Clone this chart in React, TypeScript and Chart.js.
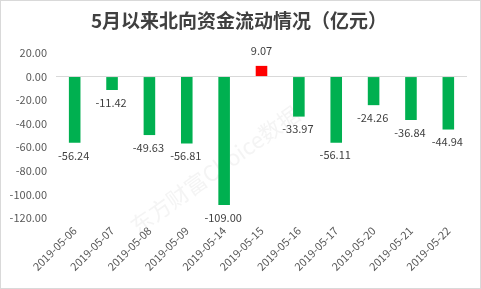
import React, { useEffect, useRef } from "react";
import { Chart, registerables } from "chart.js";

Chart.register(...registerables);

const TITLE = "5月以来北向资金流动情况（亿元）";
const categories = [
  "2019-05-06", "2019-05-07", "2019-05-08", "2019-05-09", "2019-05-14", "2019-05-15",
  "2019-05-16", "2019-05-17", "2019-05-20", "2019-05-21", "2019-05-22",
];
const values = [-56.24, -11.42, -49.63, -56.81, -109.0, 9.07, -33.97, -56.11, -24.26, -36.84, -44.94];
const yMin = -120;
const yMax = 20;
const yStep = 20;
const WATERMARK = "东方财富Choice数据";

const FONT = "'Noto Sans CJK SC', 'Noto Sans', sans-serif";

export default function App() {
  const ref = useRef<HTMLCanvasElement | null>(null);
  useEffect(() => {
    document.body.style.margin = "0";
    const canvas = ref.current!;
    const bgPlugin = {
      id: "bg",
      beforeDraw(chart: any) {
        const ctx = chart.ctx;
        ctx.save();
        ctx.fillStyle = "#ffffff";
        ctx.fillRect(0, 0, chart.width, chart.height);
        ctx.strokeStyle = "#d9d9d9";
        ctx.lineWidth = 1;
        ctx.strokeRect(0.5, 0.5, chart.width - 1, chart.height - 1);
        ctx.fillStyle = "#404040";
        ctx.font = `bold 19px ${FONT}`;
        ctx.textAlign = "center";
        ctx.textBaseline = "middle";
        ctx.fillText(TITLE, 239, 21);
        // watermark
        ctx.translate(215, 170);
        ctx.rotate(-0.62);
        ctx.fillStyle = "rgba(210,210,210,0.25)";
        ctx.font = `22px ${FONT}`;
        ctx.fillText(WATERMARK, 0, 0);
        ctx.restore();
      },
    };
    const labelPlugin = {
      id: "labels",
      afterDatasetsDraw(chart: any) {
        const ctx = chart.ctx;
        const meta = chart.getDatasetMeta(0);
        ctx.save();
        ctx.fillStyle = "#404040";
        ctx.font = `11px ${FONT}`;
        ctx.textAlign = "center";
        meta.data.forEach((bar: any, i: number) => {
          const v = values[i];
          const txt = v.toFixed(2);
          if (v < 0) {
            ctx.textBaseline = "top";
            ctx.fillText(txt, bar.x - 1, bar.y + 7);
          } else {
            ctx.textBaseline = "bottom";
            ctx.fillText(txt, bar.x, bar.y - 10);
          }
        });
        ctx.restore();
      },
    };
    const chart = new Chart(canvas, {
      type: "bar",
      data: {
        labels: categories,
        datasets: [
          {
            data: values,
            backgroundColor: values.map((v) => (v >= 0 ? "#ff0000" : "#00b050")),
            barPercentage: 0.62,
            categoryPercentage: 0.5,
          },
        ],
      },
      options: {
        animation: false,
        responsive: false,
        maintainAspectRatio: false,
        layout: { padding: { left: 0, right: 14, top: 53, bottom: 0 } },
        plugins: { legend: { display: false }, tooltip: { enabled: false }, title: { display: false } },
        scales: {
          x: {
            grid: { display: false, drawTicks: false },
            border: { display: false },
            ticks: {
              color: "#595959",
              font: { family: FONT, size: 11 },
              minRotation: 45,
              maxRotation: 45,
              padding: 6,
            },
            afterFit(scale: any) {
              scale.height = 71;
            },
          },
          y: {
            min: yMin,
            max: yMax,
            grid: {
              drawTicks: false,
              color: (c: any) => (c.tick && c.tick.value === 0 ? "#d9d9d9" : "rgba(0,0,0,0)"),
            },
            border: { display: false },
            ticks: {
              stepSize: yStep,
              color: "#595959",
              font: { family: FONT, size: 11 },
              padding: 9,
              callback: (v: any) => Number(v).toFixed(2),
            },
            afterFit(scale: any) {
              scale.width = 56;
            },
          },
        },
      },
      plugins: [bgPlugin, labelPlugin],
    });
    return () => chart.destroy();
  }, []);
  return <canvas ref={ref} width={481} height={289} style={{ display: "block" }} />;
}
